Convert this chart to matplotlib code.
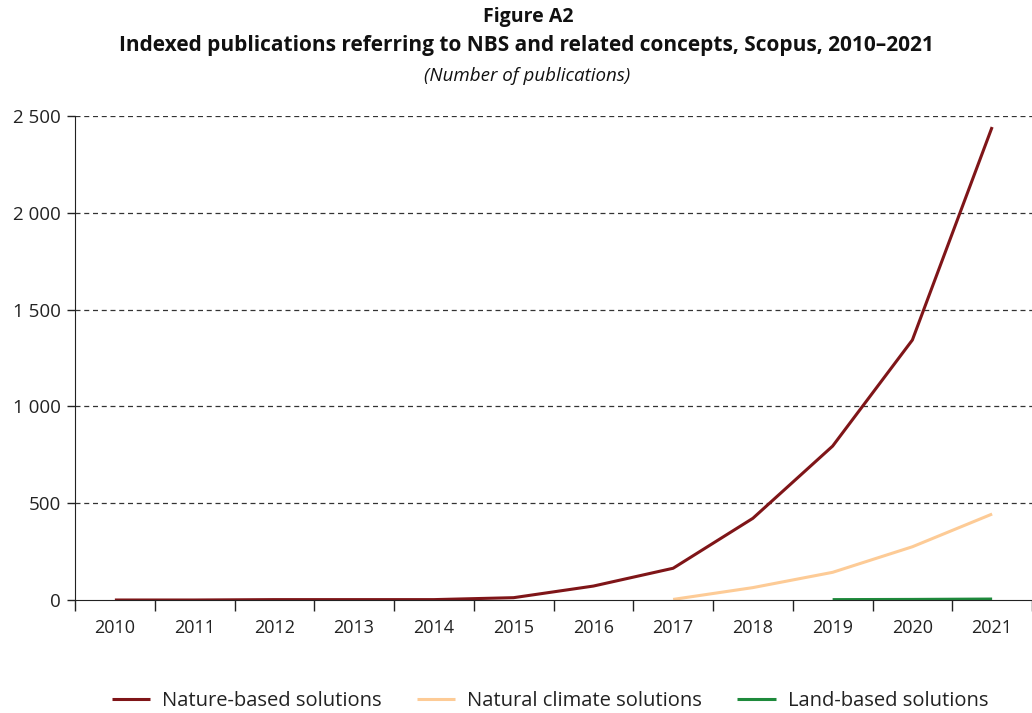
import matplotlib
matplotlib.use("Agg")
import matplotlib.pyplot as plt

years = ["2010", "2011", "2012", "2013", "2014", "2015", "2016", "2017", "2018", "2019", "2020", "2021"]
nbs = [0, 0, 2, 2, 2, 12, 72, 164, 422, 795, 1343, 2443]
ncs_years = ["2017", "2018", "2019", "2020", "2021"]
ncs = [3, 64, 143, 275, 444]
lbs_years = ["2019", "2020", "2021"]
lbs = [2, 3, 5]
yticks = [0, 500, 1000, 1500, 2000, 2500]
yticklabels = ["0", "500", "1 000", "1 500", "2 000", "2 500"]

plt.rcParams['font.family'] = ['Open Sans', 'DejaVu Sans']

fig = plt.figure(figsize=(10.32, 7.13), dpi=100)
ax = fig.add_axes([75/1032, 113/713, (1032-75)/1032, 484/713])

xpos = {y: i for i, y in enumerate(years)}
ax.plot([xpos[y] for y in years], nbs, color="#7f1518", lw=2.2, label="Nature-based solutions", solid_capstyle="butt")
ax.plot([xpos[y] for y in ncs_years], ncs, color="#fdcb96", lw=2.2, label="Natural climate solutions", solid_capstyle="butt")
ax.plot([xpos[y] for y in lbs_years], lbs, color="#1e8a3c", lw=2.2, label="Land-based solutions", solid_capstyle="butt")

ax.set_xlim(-0.5, 11.45)
ax.set_ylim(0, 2500)
ax.set_yticks(yticks)
ax.set_yticklabels(yticklabels, fontsize=13.5, color="#222222")
ax.set_xticks(range(len(years)))
ax.set_xticklabels(years, fontsize=13, color="#222222")
ax.tick_params(axis='x', which='major', length=0, pad=14)
ax.set_xticks([i - 0.5 for i in range(len(years) + 1)], minor=True)
ax.tick_params(axis='x', which='minor', length=8, width=1, color="#222222", direction='out')
ax.tick_params(axis='y', length=6, width=1, color="#222222", direction='out', pad=4)

for v in yticks[1:]:
    ax.axhline(v, color="#333333", lw=0.9, ls=(0, (4, 3)), zorder=0)

for s in ["top", "right"]:
    ax.spines[s].set_visible(False)
ax.spines["left"].set_color("#222222")
ax.spines["bottom"].set_color("#222222")

fig.text(528/1032, 1 - 17/713, "Figure A2", ha="center", va="center", fontsize=14, fontweight="bold", color="#111111")
fig.text(526/1032, 1 - 46/713, "Indexed publications referring to NBS and related concepts, Scopus, 2010–2021",
         ha="center", va="center", fontsize=15, fontweight="bold", color="#111111")
fig.text(527/1032, 1 - 76/713, "(Number of publications)", ha="center", va="center", fontsize=13.5,
         style="italic", color="#111111")

leg = fig.legend(loc="center", bbox_to_anchor=(550/1032, 1 - 701/713), ncol=3, frameon=False,
                 fontsize=14.5, handlelength=1.9, columnspacing=1.75, handletextpad=0.6)
for t in leg.get_texts():
    t.set_color("#222222")

fig.savefig("out.png", dpi=100)
